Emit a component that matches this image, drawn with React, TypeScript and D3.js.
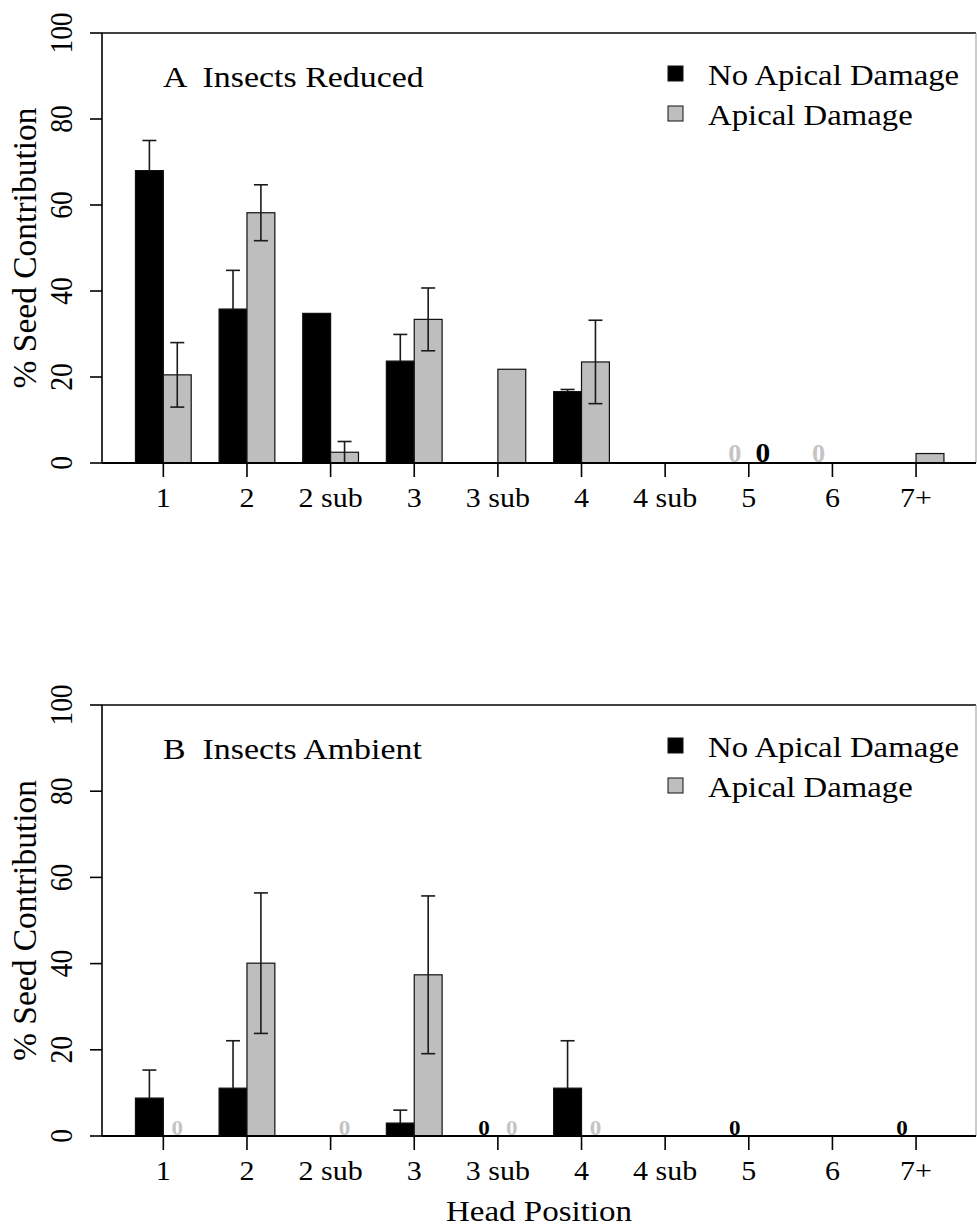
import React from "react";
import * as d3 from "d3";

const categories = ["1", "2", "2 sub", "3", "3 sub", "4", "4 sub", "5", "6", "7+"];
const yTicks = [0, 20, 40, 60, 80, 100];
const seriesNames = ["No Apical Damage", "Apical Damage"];

const reducedNoDamage = [68, 35.8, 34.8, 23.7, 0, 16.6, 0, 0, 0, 0];
const reducedNoDamageErr = [7, 9, 0, 6.2, 0, 0.5, 0, 0, 0, 0];
const reducedDamage = [20.5, 58.2, 2.5, 33.4, 21.8, 23.5, 0, 0, 0, 2.2];
const reducedDamageErr = [7.5, 6.5, 2.5, 7.3, 0, 9.7, 0, 0, 0, 0];

const ambientNoDamage = [8.8, 11.1, 0, 3.0, 0, 11.1, 0, 0, 0, 0];
const ambientNoDamageErr = [6.5, 11, 0, 3, 0, 11, 0, 0, 0, 0];
const ambientDamage = [0, 40.1, 0, 37.4, 0, 0, 0, 0, 0, 0];
const ambientDamageErr = [0, 16.3, 0, 18.3, 0, 0, 0, 0, 0, 0];

const reducedZeros = [
  { cat: "5", slot: 0, tone: "gray", size: 25 },
  { cat: "5", slot: 1, tone: "black", size: 28 },
  { cat: "6", slot: 0, tone: "gray", size: 25 },
];
const ambientZeros = [
  { cat: "1", slot: 1, tone: "gray", size: 22 },
  { cat: "2 sub", slot: 1, tone: "gray", size: 22 },
  { cat: "3 sub", slot: 0, tone: "black", size: 22 },
  { cat: "3 sub", slot: 1, tone: "gray", size: 22 },
  { cat: "4", slot: 1, tone: "gray", size: 22 },
  { cat: "5", slot: 0, tone: "black", size: 22 },
  { cat: "7+", slot: 0, tone: "black", size: 22 },
];

const FONT = "'Liberation Serif', 'Times New Roman', serif";
const BAR_FILL = ["#000000", "#bebebe"];
const ZERO_FILL: Record<string, string> = { gray: "#c4c4c4", black: "#000000" };

const LEFT = 102;
const RIGHT = 976;

const x = d3.scaleLinear().domain([-0.2, 31.15]).range([LEFT, RIGHT]);

type PanelProps = {
  top: number;
  bottom: number;
  title: string;
  values: number[][];
  errors: number[][];
  zeros: { cat: string; slot: number; tone: string; size: number }[];
  showXLabel: boolean;
};

function Panel({ top, bottom, title, values, errors, zeros, showXLabel }: PanelProps) {
  const y = d3.scaleLinear().domain([0, 100]).range([bottom, top]);
  const slotLeft = (i: number, s: number) => 1 + 3 * i + s;
  const capHalf = 7;
  return (
    <g>
      {/* bars */}
      {values.map((vals, s) =>
        vals.map((v, i) =>
          v > 0 ? (
            <rect
              key={`b${s}-${i}`}
              x={x(slotLeft(i, s))}
              y={y(v)}
              width={x(slotLeft(i, s) + 1) - x(slotLeft(i, s))}
              height={y(0) - y(v)}
              fill={BAR_FILL[s]}
              stroke="#111"
              strokeWidth={1.2}
            />
          ) : null
        )
      )}
      {/* error bars (the lower half is hidden inside black bars) */}
      {errors.map((errs, s) =>
        errs.map((e, i) => {
          if (e <= 0) return null;
          const v = values[s][i];
          const cx = x(slotLeft(i, s) + 0.5);
          const hi = y(v + e);
          const lo = s === 0 ? y(v) : y(Math.max(0, v - e));
          return (
            <g key={`e${s}-${i}`} stroke="#1a1a1a" strokeWidth={1.6}>
              <line x1={cx} x2={cx} y1={hi} y2={lo} />
              <line x1={cx - capHalf} x2={cx + capHalf} y1={hi} y2={hi} />
              {s !== 0 && <line x1={cx - capHalf} x2={cx + capHalf} y1={lo} y2={lo} />}
            </g>
          );
        })
      )}
      {/* zero labels */}
      {zeros.map((z, k) => {
        const i = categories.indexOf(z.cat);
        const cx = x(slotLeft(i, z.slot) + 0.5);
        return (
          <text
            key={`z${k}`}
            transform={`translate(${cx},${y(0) - 1.5}) scale(1.05,1)`}
            textAnchor="middle"
            fontFamily={FONT}
            fontWeight="bold"
            fontSize={z.size}
            fill={ZERO_FILL[z.tone]}
          >
            0
          </text>
        );
      })}
      {/* frame */}
      <line x1={LEFT} x2={RIGHT} y1={top} y2={top} stroke="#000" strokeWidth={1.6} />
      <line x1={LEFT} x2={LEFT} y1={top} y2={bottom} stroke="#000" strokeWidth={1.6} />
      <line x1={RIGHT} x2={RIGHT} y1={top} y2={bottom} stroke="#999" strokeWidth={1} />
      <line x1={LEFT} x2={RIGHT} y1={bottom} y2={bottom} stroke="#000" strokeWidth={1.8} />
      {/* y axis */}
      {yTicks.map((t) => (
        <g key={`yt${t}`}>
          <line x1={LEFT - 12} x2={LEFT} y1={y(t)} y2={y(t)} stroke="#000" strokeWidth={1.6} />
          <text
            transform={`translate(72,${y(t)}) scale(1.15,1) rotate(-90)`}
            textAnchor="middle"
            fontFamily={FONT}
            fontSize={27.5}
            fill="#000"
          >
            {t}
          </text>
        </g>
      ))}
      <text
        transform={`translate(36,${(top + bottom) / 2}) rotate(-90)`}
        textAnchor="middle"
        fontFamily={FONT}
        fontSize={33.5}
        fill="#000"
      >
        % Seed Contribution
      </text>
      {/* x axis */}
      {categories.map((c, i) => (
        <g key={`xt${c}`}>
          <line
            x1={x(slotLeft(i, 1))}
            x2={x(slotLeft(i, 1))}
            y1={bottom}
            y2={bottom + 14}
            stroke="#000"
            strokeWidth={1.6}
          />
          <text
            transform={`translate(${x(slotLeft(i, 1))},${bottom + 44}) scale(1.11,1)`}
            textAnchor="middle"
            fontFamily={FONT}
            fontSize={27}
            fill="#000"
          >
            {c}
          </text>
        </g>
      ))}
      {showXLabel && (
        <text
          transform={`translate(${(LEFT + RIGHT) / 2},${bottom + 85}) scale(1.1,1)`}
          textAnchor="middle"
          fontFamily={FONT}
          fontSize={30}
          fill="#000"
        >
          Head Position
        </text>
      )}
      {/* title */}
      <text
        transform={`translate(163,${top + 54}) scale(1.13,1)`}
        fontFamily={FONT}
        fontSize={30}
        fill="#000"
        style={{ whiteSpace: "pre" }}
      >
        {title}
      </text>
      {/* legend */}
      {seriesNames.map((n, s) => (
        <g key={`lg${s}`}>
          <rect
            x={668}
            y={top + 33 + s * 40}
            width={15}
            height={15}
            fill={BAR_FILL[s]}
            stroke="#111"
            strokeWidth={1}
          />
          <text
            transform={`translate(708,${top + 52 + s * 40}) scale(1.13,1)`}
            fontFamily={FONT}
            fontSize={29}
            fill="#000"
          >
            {n}
          </text>
        </g>
      ))}
    </g>
  );
}

export default function App() {
  return (
    <svg
      width={977}
      height={1230}
      style={{ position: "absolute", left: 0, top: 0, background: "#fff" }}
    >
      <rect x={0} y={0} width={977} height={1230} fill="#fff" />
      <Panel
        top={33}
        bottom={463}
        title={"A  Insects Reduced"}
        values={[reducedNoDamage, reducedDamage]}
        errors={[reducedNoDamageErr, reducedDamageErr]}
        zeros={reducedZeros}
        showXLabel={false}
      />
      <Panel
        top={705}
        bottom={1136}
        title={"B  Insects Ambient"}
        values={[ambientNoDamage, ambientDamage]}
        errors={[ambientNoDamageErr, ambientDamageErr]}
        zeros={ambientZeros}
        showXLabel={true}
      />
    </svg>
  );
}
